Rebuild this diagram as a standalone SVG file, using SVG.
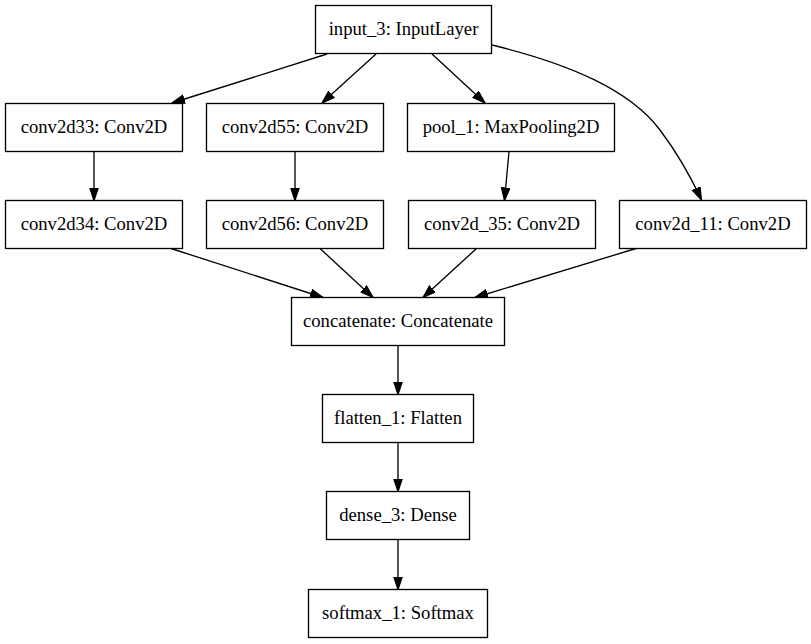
<svg xmlns="http://www.w3.org/2000/svg" width="811" height="644" viewBox="0 0 811 644">
<style>
.box{fill:#ffffff;stroke:#000000;stroke-width:1.33}
.edge{fill:none;stroke:#000000;stroke-width:1.33}
</style>
<defs>
<marker id="arr" markerUnits="userSpaceOnUse" markerWidth="16" markerHeight="12" refX="13" refY="4.7" orient="auto">
<path d="M0.5,0.5 L13,4.7 L0.5,8.9 z" fill="#000000" stroke="#000000" stroke-width="1.2"/>
</marker>
</defs>
<rect width="811" height="644" fill="#ffffff"/>
<g id="edges">
<path class="edge" marker-end="url(#arr)" d="M327,54 L172,103"/>
<path class="edge" marker-end="url(#arr)" d="M376,54 L322,103"/>
<path class="edge" marker-end="url(#arr)" d="M432,54 L485,103"/>
<path class="edge" marker-end="url(#arr)" d="M492,45 C570,64 630,90 660,130 C675,150 690,175 701.5,200"/>
<path class="edge" marker-end="url(#arr)" d="M94,151.5 L94,200.5"/>
<path class="edge" marker-end="url(#arr)" d="M295,151.5 L295,200.5"/>
<path class="edge" marker-end="url(#arr)" d="M509,151.5 L504.5,200.5"/>
<path class="edge" marker-end="url(#arr)" d="M171,248.5 L323,297.5"/>
<path class="edge" marker-end="url(#arr)" d="M320,248.5 L373,297.5"/>
<path class="edge" marker-end="url(#arr)" d="M476.5,248.5 L423,297.5"/>
<path class="edge" marker-end="url(#arr)" d="M636,248.5 L475,297.5"/>
<path class="edge" marker-end="url(#arr)" d="M398,345.5 L398,394.5"/>
<path class="edge" marker-end="url(#arr)" d="M398,442.5 L398,491.5"/>
<path class="edge" marker-end="url(#arr)" d="M398,539.5 L398,589.5"/>
</g>
<g font-family="'Liberation Serif', 'Times New Roman', serif" font-size="18.67" text-anchor="middle" fill="#000000">
<g id="input_3"><rect class="box" x="315.5" y="5.5" width="176" height="48"/><text x="403.5" y="35">input_3: InputLayer</text></g>
<g id="conv2d33"><rect class="box" x="5.5" y="103.5" width="177" height="48"/><text x="94" y="133">conv2d33: Conv2D</text></g>
<g id="conv2d55"><rect class="box" x="206.5" y="103.5" width="177" height="48"/><text x="295" y="133">conv2d55: Conv2D</text></g>
<g id="pool_1"><rect class="box" x="407.5" y="103.5" width="207" height="48"/><text x="511" y="133">pool_1: MaxPooling2D</text></g>
<g id="conv2d34"><rect class="box" x="5.5" y="200.5" width="177" height="48"/><text x="94" y="230">conv2d34: Conv2D</text></g>
<g id="conv2d56"><rect class="box" x="206.5" y="200.5" width="177" height="48"/><text x="295" y="230">conv2d56: Conv2D</text></g>
<g id="conv2d_35"><rect class="box" x="408.5" y="200.5" width="187" height="48"/><text x="502" y="230">conv2d_35: Conv2D</text></g>
<g id="conv2d_11"><rect class="box" x="619.5" y="200.5" width="187" height="48"/><text x="713" y="230">conv2d_11: Conv2D</text></g>
<g id="concatenate"><rect class="box" x="291.5" y="297.5" width="213" height="48"/><text x="398" y="327">concatenate: Concatenate</text></g>
<g id="flatten_1"><rect class="box" x="322.5" y="394.5" width="151" height="48"/><text x="398" y="424">flatten_1: Flatten</text></g>
<g id="dense_3"><rect class="box" x="326.5" y="491.5" width="143" height="48"/><text x="398" y="521">dense_3: Dense</text></g>
<g id="softmax_1"><rect class="box" x="308.5" y="589.5" width="179" height="48"/><text x="398" y="619">softmax_1: Softmax</text></g>
</g>
</svg>
